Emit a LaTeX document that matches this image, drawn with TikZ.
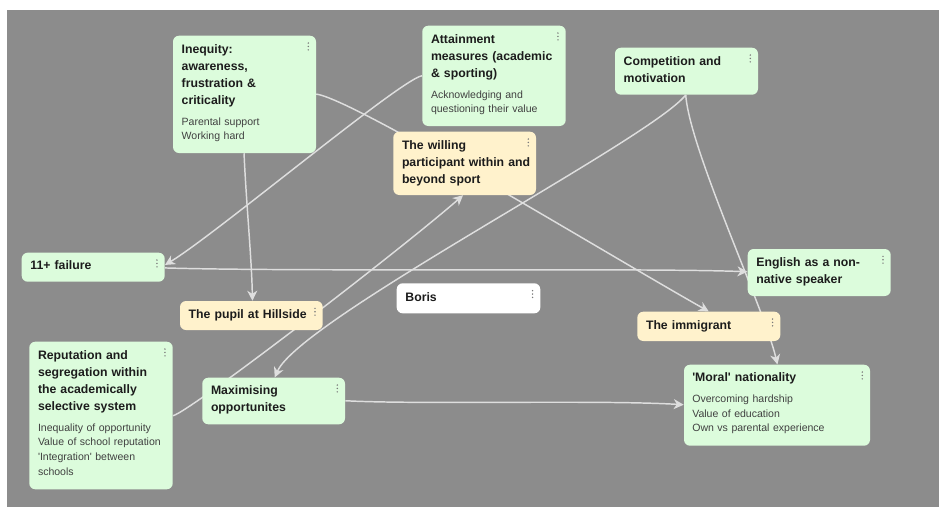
\documentclass[tikz,border=0pt]{standalone}
\usepackage{fontspec}
\setmainfont{Liberation Sans}
\usetikzlibrary{arrows.meta,fit}

\definecolor{canvas}{HTML}{8C8C8C}
\definecolor{cardgreen}{HTML}{DCFCDC}
\definecolor{cardyellow}{HTML}{FFF2CC}
\definecolor{wire}{HTML}{DEDEDE}
\definecolor{ink}{HTML}{1C1C1C}
\definecolor{subink}{HTML}{404040}
\definecolor{dotgray}{HTML}{7A7A7A}

\pgfdeclarelayer{bg}
\pgfdeclarelayer{edges}
\pgfsetlayers{bg,edges,main}

% three small dots in the top right corner of a card
\newcommand\menudots[1]{%
  \foreach \k in {0,1,2}
    \fill[dotgray] ([shift={(-8,7.6+3.4*\k)}]#1.north east) circle (0.6pt);}

\tikzset{
  x=0.75pt, y=-0.75pt,
  card/.style={rounded corners=4.5pt, inner sep=0pt, draw=none},
  greencard/.style={card, fill=cardgreen},
  yellowcard/.style={card, fill=cardyellow},
  whitecard/.style={card, fill=white},
  title/.style={anchor=base west, inner sep=0pt, text width=120pt, align=left,
    font=\fontsize{9.2pt}{12.75pt}\selectfont\bfseries, text=ink},
  subtitle/.style={anchor=base west, inner sep=0pt, text width=130pt, align=left,
    font=\fontsize{7.9pt}{11pt}\selectfont, text=subink},
  wireline/.style={draw=wire, line width=1.1pt,
    -{Stealth[length=7.5pt,width=7.5pt,inset=2.3pt]}},
}

\begin{document}
\begin{tikzpicture}
\begin{pgfonlayer}{bg}
  \fill[white] (0,0) rectangle (939,507);
  \fill[canvas] (7,10) rectangle (939,507);
\end{pgfonlayer}
\useasboundingbox (0,0) rectangle (939,507);

% ---- cards ----
\node[greencard, fit={(173,35.7)(316,153)}] (inq) {};
\node[title] (inq-t) at ([shift={(8.7,17.6)}]inq.north west)
  {Inequity:\\awareness,\\frustration \&\\criticality};
\node[subtitle] (inq-s) at ([shift={(8.7,89.6)}]inq.north west)
  {Parental support\\Working hard};
\menudots{inq}

\node[greencard, fit={(422.3,25.7)(565.7,126)}] (att) {};
\node[title] (att-t) at ([shift={(8.7,17.6)}]att.north west)
  {Attainment\\measures (academic\\\& sporting)};
\node[subtitle] (att-s) at ([shift={(8.7,72.6)}]att.north west)
  {Acknowledging and\\questioning their value};
\menudots{att}

\node[greencard, fit={(615,47.7)(758,94.7)}] (comp) {};
\node[title] (comp-t) at ([shift={(8.7,17.6)}]comp.north west)
  {Competition and\\motivation};
\menudots{comp}

\node[yellowcard, fit={(393.3,131.7)(536,195)}] (will) {};
\node[title] (will-t) at ([shift={(8.7,17.6)}]will.north west)
  {The willing\\participant within and\\beyond sport};
\menudots{will}

\node[greencard, fit={(21.7,252.7)(164.7,281.7)}] (ell) {};
\node[title] (ell-t) at ([shift={(8.7,16.8)}]ell.north west) {11+ failure};
\menudots{ell}

\node[greencard, fit={(747.7,249)(890.7,296)}] (eng) {};
\node[title] (eng-t) at ([shift={(8.7,17.6)}]eng.north west)
  {English as a non-\\native speaker};
\menudots{eng}

\node[yellowcard, fit={(180,301)(322.7,330)}] (pupil) {};
\node[title] (pupil-t) at ([shift={(8.7,17.3)}]pupil.north west) {The pupil at Hillside};
\menudots{pupil}

\node[whitecard, fit={(396.7,283.3)(540.3,313.3)}] (boris) {};
\node[title] (boris-t) at ([shift={(8.7,18)}]boris.north west) {Boris};
\menudots{boris}

\node[yellowcard, fit={(637.3,311.7)(780.3,341)}] (imm) {};
\node[title] (imm-t) at ([shift={(8.7,17.6)}]imm.north west) {The immigrant};
\menudots{imm}

\node[greencard, fit={(29.3,341.7)(172.7,489.3)}] (rep) {};
\node[title] (rep-t) at ([shift={(8.7,17.6)}]rep.north west)
  {Reputation and\\segregation within\\the academically\\selective system};
\node[subtitle] (rep-s) at ([shift={(8.7,89.8)}]rep.north west)
  {Inequality of opportunity\\Value of school reputation\\\textquotesingle Integration\textquotesingle\ between\\schools};
\menudots{rep}

\node[greencard, fit={(202.3,377.7)(345,424.3)}] (maxo) {};
\node[title] (maxo-t) at ([shift={(8.7,17.3)}]maxo.north west)
  {Maximising\\opportunites};
\menudots{maxo}

\node[greencard, fit={(684,364.7)(870,445.7)}] (moral) {};
\node[title] (moral-t) at ([shift={(8.3,17.3)}]moral.north west)
  {\textquotesingle Moral\textquotesingle\ nationality};
\node[subtitle] (moral-s) at ([shift={(8.3,38)}]moral.north west)
  {Overcoming hardship\\Value of education\\Own vs parental experience};
\menudots{moral}

% ---- connectors (drawn behind the cards) ----
\begin{pgfonlayer}{edges}
  \draw[wireline] ([shift={(0,50.3)}]att.north west)
    .. controls +(-22,4) and +(50,-30) .. ([shift={(0,12.5)}]ell.north east);
  \draw[wireline] ([shift={(0,15.5)}]ell.north east)
    .. controls +(135,4) and +(-108,-4) .. ([shift={(0,23)}]eng.north west);
  \draw[wireline] ([shift={(71.3,0)}]inq.south west)
    .. controls +(2,47) and +(-0.7,-41) .. ([shift={(72.7,0)}]pupil.north west);
  \draw[wireline] ([shift={(0,58.6)}]inq.north east)
    .. controls +(39,6) and +(-109,-61.7) .. ([shift={(71.7,0)}]imm.north west);
  \draw[wireline] ([shift={(71,0)}]comp.south west)
    .. controls +(-36,45) and +(25,-57.7) .. ([shift={(72.7,0)}]maxo.north west);
  \draw[wireline] ([shift={(71,0)}]comp.south west)
    .. controls +(4,55) and +(-12.7,-54.7) .. ([shift={(93.7,0)}]moral.north west);
  \draw[wireline] ([shift={(0,74.3)}]rep.north east)
    .. controls +(17,-4) and +(-63,55) .. ([shift={(70,0)}]will.south west);
  \draw[wireline] ([shift={(0,23.3)}]maxo.north east)
    .. controls +(75,4) and +(-84,-5) .. ([shift={(0,40.3)}]moral.north west);
\end{pgfonlayer}
\end{tikzpicture}
\end{document}
